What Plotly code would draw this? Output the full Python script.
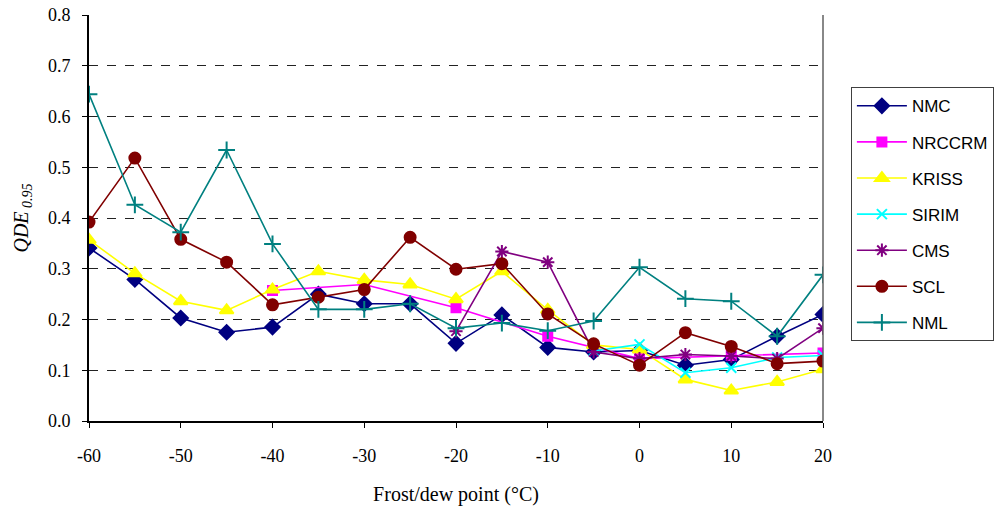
import plotly.graph_objects as go

x_all = [-60, -55, -50, -45, -40, -35, -30, -25, -20, -15, -10, -5, 0, 5, 10, 15, 20]

nmc = [0.341, 0.279, 0.203, 0.175, 0.185, 0.250, 0.231, 0.231, 0.153, 0.209, 0.145, 0.136, 0.139, 0.110, 0.121, 0.167, 0.210]
nrccrm_x = [-40, -30, -20, -10, 0, 10, 20]
nrccrm = [0.257, 0.269, 0.223, 0.167, 0.123, 0.129, 0.134]
kriss = [0.357, 0.291, 0.236, 0.218, 0.259, 0.295, 0.278, 0.269, 0.240, 0.295, 0.219, 0.150, 0.141, 0.082, 0.060, 0.077, 0.102]
sirim_x = [-5, 0, 5, 10, 15, 20]
sirim = [0.138, 0.151, 0.095, 0.105, 0.125, 0.129]
cms_x = [-20, -15, -10, -5, 0, 5, 10, 15, 20]
cms = [0.177, 0.334, 0.313, 0.136, 0.123, 0.131, 0.128, 0.123, 0.183]
scl = [0.392, 0.518, 0.358, 0.313, 0.229, 0.244, 0.259, 0.362, 0.299, 0.310, 0.211, 0.152, 0.110, 0.174, 0.147, 0.113, 0.118]
nml = [0.644, 0.426, 0.372, 0.534, 0.349, 0.220, 0.220, 0.231, 0.183, 0.193, 0.178, 0.197, 0.303, 0.241, 0.236, 0.167, 0.288]

x_ticks = [-60, -50, -40, -30, -20, -10, 0, 10, 20]
x_tick_labels = ["-60", "-50", "-40", "-30", "-20", "-10", "0", "10", "20"]
y_ticks = [0.0, 0.1, 0.2, 0.3, 0.4, 0.5, 0.6, 0.7, 0.8]

series = [
    ("NMC", x_all, nmc, "#000080", "diamond", 11),
    ("NRCCRM", nrccrm_x, nrccrm, "#FF00FF", "square", 9),
    ("KRISS", x_all, kriss, "#FFFF00", "triangle-up", 12),
    ("SIRIM", sirim_x, sirim, "#00FFFF", "x-thin-open", 10),
    ("CMS", cms_x, cms, "#800080", "asterisk-open", 11),
    ("SCL", x_all, scl, "#800000", "circle", 11),
    ("NML", x_all, nml, "#008080", "cross-thin-open", 12),
]

fig = go.Figure()
for name, xs, ys, col, sym, sz in series:
    fig.add_trace(go.Scatter(
        x=xs, y=ys, name=name, mode="lines+markers", legendgroup=name,
        line=dict(color=col, width=1.6),
        marker=dict(symbol=sym, size=sz, color=col, line=dict(color=col, width=2)),
    ))

serif = "Liberation Serif, Times New Roman, serif"
fig.update_layout(
    width=1006, height=511,
    margin=dict(l=89, r=179, t=15, b=90),
    paper_bgcolor="white", plot_bgcolor="white",
    font=dict(family=serif, color="black", size=17),
    showlegend=True,
    legend=dict(
        x=1.038, xanchor="left", y=0.822, yanchor="top",
        bordercolor="#404040", borderwidth=1,
        font=dict(family="Liberation Sans, Arial, sans-serif", size=17, color="black"),
        tracegroupgap=11, itemwidth=50,
    ),
    xaxis=dict(
        range=[-60, 20], tickvals=x_ticks, ticktext=x_tick_labels, ticks="outside", ticklen=5,
        tickcolor="black", showgrid=False, zeroline=False, automargin=False,
        showline=True, linecolor="black", linewidth=2,
        tickfont=dict(family=serif, size=18), ticklabelstandoff=12,
        title=dict(text="Frost/dew point (°C)", font=dict(family=serif, size=20), standoff=22),
    ),
    yaxis=dict(
        range=[0, 0.8], tickvals=y_ticks, tickformat=".1f", ticks="outside", ticklen=5,
        tickcolor="black", showgrid=True, gridcolor="#222222", griddash="dash", gridwidth=1,
        zeroline=False, showline=True, linecolor="black", linewidth=2, automargin=False,
        tickfont=dict(family=serif, size=18), ticklabelstandoff=8,
        title=dict(text="<i>QDE</i><sub><i> 0.95</i></sub>", font=dict(family=serif, size=20), standoff=14),
    ),
)
fig.add_shape(type="line", xref="paper", yref="paper", x0=1, x1=1, y0=0, y1=1,
              line=dict(color="#606060", width=1.5))

fig.write_html("out.html")
